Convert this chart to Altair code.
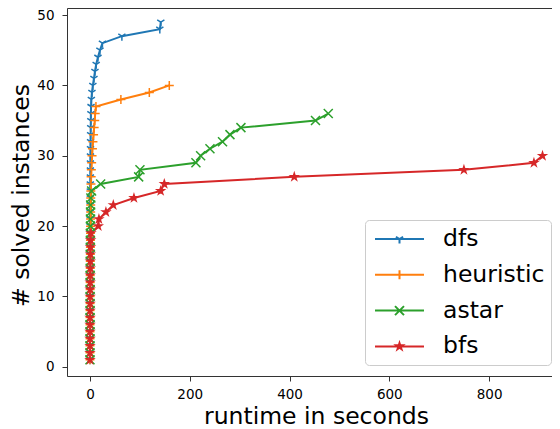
import math
import altair as alt
import pandas as pd

# ---------------- data ----------------
series_names = ["dfs", "heuristic", "astar", "bfs"]
series_colors = ["#1f77b4", "#ff7f0e", "#2ca02c", "#d62728"]

# runtime (s) of the k-th solved instance, k = 1..N
dfs_runtime = [0.02, 0.03, 0.04, 0.05, 0.06, 0.08, 0.1, 0.12, 0.15, 0.18,
               0.2, 0.22, 0.25, 0.28, 0.3, 0.33, 0.36, 0.4, 0.44, 0.48,
               0.52, 0.56, 0.6, 0.65, 0.7, 0.75, 0.8, 0.86, 0.92, 1.0,
               1.1, 1.2, 1.35, 1.5, 1.7, 1.9,
               2.2, 2.8, 4.0, 5.8, 8.0, 10.0, 12.5, 16.0, 20.0, 25.0, 64.0, 140.0, 142.0]
heuristic_runtime = [0.05, 0.08, 0.1, 0.12, 0.15, 0.18, 0.2, 0.25, 0.3, 0.35,
                     0.4, 0.45, 0.5, 0.6, 0.7, 0.8, 0.9, 1.0, 1.1, 1.2,
                     1.3, 1.4, 1.5, 1.6, 1.8, 2.0, 2.4, 2.8, 3.4, 4.2,
                     5.0, 6.0, 7.2, 8.4, 9.6, 10.5,
                     12.0, 62.0, 119.0, 159.0]
astar_runtime = [0.05, 0.08, 0.1, 0.12, 0.15, 0.18, 0.2, 0.24, 0.28, 0.32,
                 0.36, 0.4, 0.45, 0.5, 0.55, 0.6, 0.7, 0.8, 0.9, 1.0,
                 1.1, 1.2, 1.4, 1.8, 3.3, 21.4, 97.6, 100.2, 212.4, 221.8,
                 240.5, 265.7, 280.6, 302.6, 452.0, 477.6]
bfs_runtime = [0.05, 0.08, 0.1, 0.12, 0.15, 0.18, 0.2, 0.25, 0.3, 0.35,
               0.4, 0.5, 0.6, 0.7, 0.8, 0.9, 1.1, 1.4,
               2.0, 16.7, 18.0, 32.0, 46.8, 88.2, 141.7, 149.0, 409.5, 749.5, 889.8, 907.0]

x_ticks = [0, 200, 400, 600, 800]
y_ticks = [0, 10, 20, 30, 40, 50]

rows = []
for name, runtimes in zip(series_names, [dfs_runtime, heuristic_runtime, astar_runtime, bfs_runtime]):
    for k, t in enumerate(runtimes, start=1):
        rows.append({"series": name, "marker": name, "runtime": t, "solved": k})
df = pd.DataFrame(rows)

# ---------------- marker shapes (matplotlib '1', '+', 'x', '*') ----------------
def tri_down(s):
    return f"M0,0L0,{s}M0,0L{-0.8*s},{-0.5*s}M0,0L{0.8*s},{-0.5*s}"

def plus(s):
    return f"M{-s},0L{s},0M0,{-s}L0,{s}"

def cross(s):
    return f"M{-s},{-s}L{s},{s}M{-s},{s}L{s},{-s}"

def star(s):
    pts = []
    for k in range(10):
        r = s if k % 2 == 0 else s * 0.381966
        a = -math.pi / 2 + k * math.pi / 5
        pts.append(f"{r*math.cos(a):.3f},{r*math.sin(a):.3f}")
    return "M" + "L".join(pts) + "Z"

marker_paths = [tri_down(1), plus(1), cross(1), star(0.8)]
leg_line = "M-2.13,0L2.13,0"
leg_s = 0.39
legend_paths = [leg_line + tri_down(leg_s), leg_line + plus(leg_s),
                leg_line + cross(leg_s), leg_line + star(leg_s * 0.75)]

# ---------------- scales / axes ----------------
x_scale = alt.Scale(domain=[-46, 926], nice=False, zero=False)
y_scale = alt.Scale(domain=[-1.3, 51.0], nice=False, zero=False)


def color_scale():
    return alt.Scale(domain=series_names, range=series_colors)


axis_common = dict(grid=False, tickSize=5, labelFontSize=13.5, labelColor="black",
                   titleFontSize=23.5, titleColor="black", titleFontWeight="normal",
                   domainColor="#333333", tickColor="#333333", domainWidth=1,
                   labelFont="DejaVu Sans", titleFont="DejaVu Sans", format="d")

x_axis = alt.Axis(values=x_ticks, title="runtime in seconds", labelPadding=6,
                  titleX=249, titleY=47.3, titleBaseline="alphabetic", titleAlign="center",
                  **axis_common)
y_axis = alt.Axis(values=y_ticks, title="# solved instances", labelPadding=8,
                  titleX=-39, titleY=187, titleAngle=270, titleBaseline="alphabetic",
                  titleAlign="center", **axis_common)
top_axis = alt.Axis(orient="top", labels=False, ticks=False, title="", grid=False,
                    domain=True, domainColor="#333333", domainWidth=1)

legend_def = alt.Legend(title=None, orient="none", legendX=298, legendY=212,
                        labelFontSize=23.5, labelFont="DejaVu Sans", labelColor="black",
                        symbolSize=529, symbolStrokeWidth=2, symbolOffset=15.5,
                        labelOffset=31, rowPadding=11.8, padding=6.5,
                        fillColor="rgba(255,255,255,0.8)", strokeColor="#cccccc",
                        cornerRadius=4, labelLimit=300)

base = alt.Chart(df)

lines = base.mark_line(strokeWidth=2).encode(
    x=alt.X("runtime:Q", scale=x_scale, axis=x_axis),
    y=alt.Y("solved:Q", scale=y_scale, axis=y_axis),
    color=alt.Color("series:N", scale=color_scale(), legend=None),
    detail="series:N",
    order=alt.Order("solved:Q"),
)

points = base.mark_point(filled=False, size=81, strokeWidth=1.5, opacity=1).encode(
    x=alt.X("runtime:Q", scale=x_scale, axis=None),
    y=alt.Y("solved:Q", scale=y_scale, axis=None),
    color=alt.Color("series:N", scale=color_scale(), legend=None),
    fill=alt.Fill("series:N", scale=color_scale(), legend=None),
    shape=alt.Shape("marker:N", scale=alt.Scale(domain=series_names, range=marker_paths), legend=None),
)

legend_layer = base.transform_filter("datum.solved < 0").mark_point(
    filled=False, strokeWidth=2, opacity=1
).encode(
    x=alt.X("runtime:Q", scale=x_scale, axis=top_axis),
    y=alt.Y("solved:Q", scale=y_scale, axis=None),
    color=alt.Color("series:N", scale=color_scale(), legend=legend_def),
    shape=alt.Shape("series:N", scale=alt.Scale(domain=series_names, range=legend_paths), legend=legend_def),
)

chart = (
    alt.layer(lines, points, legend_layer)
    .resolve_scale(shape="independent", color="independent", fill="independent")
    .resolve_axis(x="independent", y="independent")
    .properties(
        width=485, height=368,
        autosize=alt.AutoSizeParams(type="none"),
        padding={"left": 59, "top": 0, "right": 0, "bottom": 53},
        background="white",
    )
    .configure_view(strokeWidth=0)
    .configure(font="DejaVu Sans")
)

chart.save("out.html", embed_options={"renderer": "svg", "actions": False})
